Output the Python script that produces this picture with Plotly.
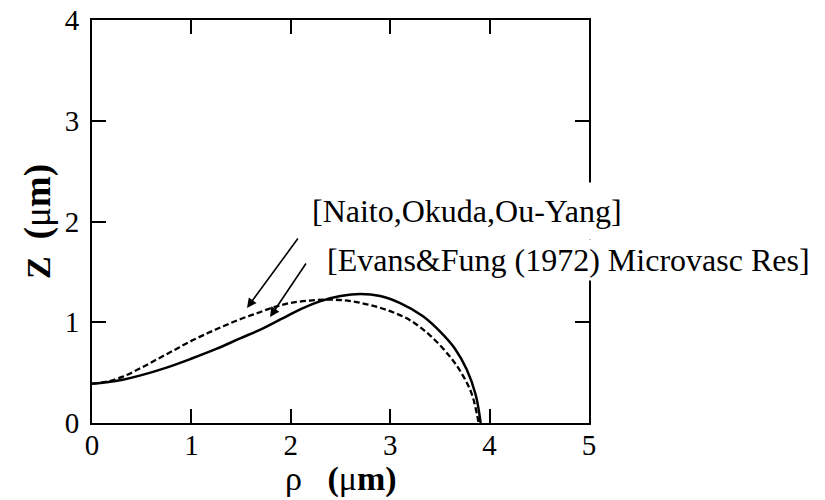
import plotly.graph_objects as go

# Data
rho_naito = [0, 0.15, 0.31, 0.48, 0.75, 0.99, 1.25, 1.49, 1.70, 1.90, 2.10, 2.30, 2.50, 2.70, 2.90, 3.10, 3.33, 3.50, 3.65, 3.77, 3.86, 3.91]
z_naito = [0.39, 0.405, 0.43, 0.47, 0.55, 0.635, 0.735, 0.84, 0.93, 1.03, 1.13, 1.21, 1.26, 1.28, 1.26, 1.19, 1.06, 0.91, 0.74, 0.53, 0.28, 0.0]

rho_evans = [0, 0.15, 0.31, 0.48, 0.65, 0.82, 0.99, 1.16, 1.32, 1.49, 1.66, 1.83, 1.99, 2.19, 2.40, 2.60, 2.80, 3.00, 3.20, 3.40, 3.60, 3.72, 3.82, 3.89]
z_evans = [0.39, 0.41, 0.46, 0.54, 0.63, 0.72, 0.81, 0.89, 0.96, 1.03, 1.09, 1.15, 1.19, 1.215, 1.225, 1.21, 1.17, 1.11, 1.02, 0.87, 0.66, 0.49, 0.29, 0.0]

x_ticks = [0, 1, 2, 3, 4, 5]
y_ticks = [0, 1, 2, 3, 4]

label_naito = "[Naito,Okuda,Ou-Yang]"
label_evans = "[Evans&Fung (1972) Microvasc Res]"

FONT = "Liberation Serif, Times New Roman, serif"

fig = go.Figure()
fig.add_trace(go.Scatter(x=rho_naito, y=z_naito, mode="lines",
                         line=dict(color="black", width=2.5, shape="spline", smoothing=1.0),
                         showlegend=False, cliponaxis=False))
fig.add_trace(go.Scatter(x=rho_evans, y=z_evans, mode="lines",
                         line=dict(color="black", width=2.3, dash="6px,3px", shape="spline", smoothing=1.0),
                         showlegend=False, cliponaxis=False))

# page body has an 8px default margin; compensate so the page matches the reference
OFF = 8
W, H = 825 - OFF, 500 - OFF
X0, X1, Y0, Y1 = 92, 589, 20, 423          # plot box in page pixels
L, R, T, B = X0 - OFF, W - (X1 - OFF), Y0 - OFF, H - (Y1 - OFF)
PW, PH = X1 - X0, Y1 - Y0

def px(xp):
    return (xp - X0) / PW

def py(yp):
    return (Y1 - yp) / PH

axis_common = dict(showgrid=False, zeroline=False, showline=True, linecolor="black", linewidth=2,
                   mirror="ticks", ticks="inside", ticklen=14, tickwidth=2, tickcolor="black",
                   automargin=False, ticklabeloverflow="allow",
                   tickfont=dict(family=FONT, size=29, color="black"))

fig.update_xaxes(range=[0, 5], tickvals=x_ticks, ticktext=[str(v) for v in x_ticks],
                 ticklabelstandoff=-5, **axis_common)
fig.update_yaxes(range=[0, 4], tickvals=y_ticks, ticktext=[str(v) for v in y_ticks],
                 ticklabelstandoff=5, **axis_common)

annotations = [
    dict(text=label_naito, xref="paper", yref="paper", x=px(467), y=py(211),
         xanchor="center", yanchor="middle", showarrow=False,
         font=dict(family=FONT, size=32, color="black"), bgcolor="white", borderpad=10),
    dict(text=label_evans, xref="paper", yref="paper", x=px(568), y=py(260),
         xanchor="center", yanchor="middle", showarrow=False,
         font=dict(family=FONT, size=32, color="black"), bgcolor="white", borderpad=2),
    dict(text="", x=px(247) * 5, y=py(308) * 4, xref="x", yref="y",
         showarrow=True, ax=52, ay=-71, arrowhead=2, arrowsize=1.2, arrowwidth=1.6, arrowcolor="black"),
    dict(text="", x=px(270) * 5, y=py(317) * 4, xref="x", yref="y",
         showarrow=True, ax=37, ay=-55, arrowhead=2, arrowsize=1.2, arrowwidth=1.6, arrowcolor="black"),
    dict(text="<b>Z</b>  <span style='font-size:37px'><b>(</b>μ<b>m)</b></span>",
         xref="paper", yref="paper", x=px(38), y=py(222),
         xanchor="center", yanchor="middle", textangle=-90, showarrow=False,
         font=dict(family=FONT, size=34, color="black")),
    dict(text="ρ   <b>(</b>μ<b>m)</b>", xref="paper", yref="paper", x=px(341), y=py(479),
         xanchor="center", yanchor="middle", showarrow=False,
         font=dict(family=FONT, size=34, color="black")),
]

fig.update_layout(width=W, height=H, margin=dict(l=L, r=R, t=T, b=B, autoexpand=False),
                  plot_bgcolor="white", paper_bgcolor="white",
                  annotations=annotations, showlegend=False)

fig.write_html("out.html")
